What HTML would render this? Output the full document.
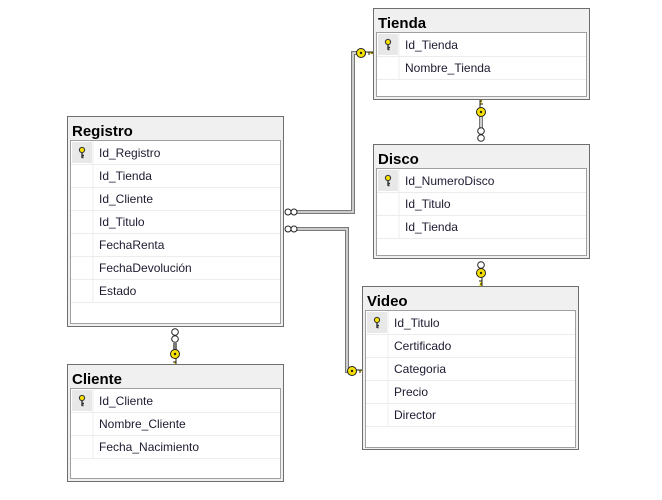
<!DOCTYPE html>
<html><head><meta charset="utf-8"><style>
html,body{margin:0;padding:0;background:#fff;}
svg{display:block}
text{font-family:"Liberation Sans",sans-serif;}
.t{font-size:15px;font-weight:bold;fill:#000}
.f{font-size:12px;fill:#1e1a30}
</style></head><body>
<svg width="662" height="500" viewBox="0 0 662 500" xmlns="http://www.w3.org/2000/svg">
<defs>
<g id="key"><circle cx="0" cy="-3" r="2.6" fill="#f5e000" stroke="#333" stroke-width="1"/><path d="M0 -0.5 V5 M0 2.5 h2 M0 4.5 h1.5" stroke="#333" stroke-width="1.4" fill="none"/></g>
<g id="keyH"><circle cx="0" cy="0" r="4.5" fill="#f5e000" stroke="#222" stroke-width="1"/><circle cx="0" cy="0" r="1.2" fill="#222"/><path d="M4.5 -1 h9 v3 M8 -1 v3 M11 -1 v2" stroke="#222" stroke-width="1" fill="#f5e000"/></g>
</defs>
<g fill="none" stroke-linejoin="miter">
<path d="M296 212 H353 V53 H366" stroke="#7a7a7a" stroke-width="4"/>
<path d="M296 212 H353 V53 H366" stroke="#e6e6e6" stroke-width="1.5"/>
<path d="M296 229 H347 V371 H350" stroke="#7a7a7a" stroke-width="4"/>
<path d="M296 229 H347 V371 H350" stroke="#e6e6e6" stroke-width="1.5"/>
<path d="M481 114 V128" stroke="#7a7a7a" stroke-width="4"/>
<path d="M481 114 V128" stroke="#e6e6e6" stroke-width="1.5"/>
<path d="M175 343 V352" stroke="#7a7a7a" stroke-width="4"/>
</g>
<g fill="#fff" stroke="#222" stroke-width="1">
<circle cx="288" cy="212" r="3"/><circle cx="294" cy="212" r="3"/>
<circle cx="288" cy="229" r="3"/><circle cx="294" cy="229" r="3"/>
<circle cx="481" cy="131" r="3.3"/><circle cx="481" cy="138" r="3.3"/>
<circle cx="481" cy="265" r="3.3"/>
<circle cx="175" cy="332" r="3.3"/><circle cx="175" cy="339" r="3.3"/>
</g>
<use href="#keyH" transform="translate(361,53)"/>
<use href="#keyH" transform="translate(352,371)"/>
<use href="#keyH" transform="translate(481,112) rotate(-90)"/>
<use href="#keyH" transform="translate(481,273) rotate(90)"/>
<use href="#keyH" transform="translate(175,354) rotate(90)"/>

<g transform="translate(373,8)">
<rect x="0.5" y="0.5" width="216" height="91" fill="#f0f0f0" stroke="#6e6e6e"/>
<text class="t" x="5" y="20">Tienda</text>
<rect x="3.5" y="24.5" width="210" height="64" fill="#fff" stroke="#a0a0a0"/>
<rect x="5" y="26" width="20" height="21" fill="#e8e8e8"/>
<path d="M4 48.5 H213 M4 71.5 H213 M26 25 V71" stroke="#ececec"/>
<use href="#key" transform="translate(15,37)"/>
<text class="f" x="32" y="41">Id_Tienda</text>
<text class="f" x="32" y="64">Nombre_Tienda</text>
</g>
<g transform="translate(67,116)">
<rect x="0.5" y="0.5" width="216" height="210" fill="#f0f0f0" stroke="#6e6e6e"/>
<text class="t" x="5" y="20">Registro</text>
<rect x="3.5" y="24.5" width="210" height="183" fill="#fff" stroke="#a0a0a0"/>
<rect x="5" y="26" width="20" height="21" fill="#e8e8e8"/>
<path d="M4 48.5 H213 M4 71.5 H213 M4 94.5 H213 M4 117.5 H213 M4 140.5 H213 M4 163.5 H213 M4 186.5 H213 M26 25 V186" stroke="#ececec"/>
<use href="#key" transform="translate(15,37)"/>
<text class="f" x="32" y="41">Id_Registro</text>
<text class="f" x="32" y="64">Id_Tienda</text>
<text class="f" x="32" y="87">Id_Cliente</text>
<text class="f" x="32" y="110">Id_Titulo</text>
<text class="f" x="32" y="133">FechaRenta</text>
<text class="f" x="32" y="156">FechaDevolución</text>
<text class="f" x="32" y="179">Estado</text>
</g>
<g transform="translate(373,144)">
<rect x="0.5" y="0.5" width="216" height="114" fill="#f0f0f0" stroke="#6e6e6e"/>
<text class="t" x="5" y="20">Disco</text>
<rect x="3.5" y="24.5" width="210" height="87" fill="#fff" stroke="#a0a0a0"/>
<rect x="5" y="26" width="20" height="21" fill="#e8e8e8"/>
<path d="M4 48.5 H213 M4 71.5 H213 M4 94.5 H213 M26 25 V94" stroke="#ececec"/>
<use href="#key" transform="translate(15,37)"/>
<text class="f" x="32" y="41">Id_NumeroDisco</text>
<text class="f" x="32" y="64">Id_Titulo</text>
<text class="f" x="32" y="87">Id_Tienda</text>
</g>
<g transform="translate(362,286)">
<rect x="0.5" y="0.5" width="216" height="163" fill="#f0f0f0" stroke="#6e6e6e"/>
<text class="t" x="5" y="20">Video</text>
<rect x="3.5" y="24.5" width="210" height="137" fill="#fff" stroke="#a0a0a0"/>
<rect x="5" y="26" width="20" height="21" fill="#e8e8e8"/>
<path d="M4 48.5 H213 M4 71.5 H213 M4 94.5 H213 M4 117.5 H213 M4 140.5 H213 M26 25 V140" stroke="#ececec"/>
<use href="#key" transform="translate(15,37)"/>
<text class="f" x="32" y="41">Id_Titulo</text>
<text class="f" x="32" y="64">Certificado</text>
<text class="f" x="32" y="87">Categoria</text>
<text class="f" x="32" y="110">Precio</text>
<text class="f" x="32" y="133">Director</text>
</g>
<g transform="translate(67,364)">
<rect x="0.5" y="0.5" width="216" height="117" fill="#f0f0f0" stroke="#6e6e6e"/>
<text class="t" x="5" y="20">Cliente</text>
<rect x="3.5" y="24.5" width="210" height="90" fill="#fff" stroke="#a0a0a0"/>
<rect x="5" y="26" width="20" height="21" fill="#e8e8e8"/>
<path d="M4 48.5 H213 M4 71.5 H213 M4 94.5 H213 M26 25 V94" stroke="#ececec"/>
<use href="#key" transform="translate(15,37)"/>
<text class="f" x="32" y="41">Id_Cliente</text>
<text class="f" x="32" y="64">Nombre_Cliente</text>
<text class="f" x="32" y="87">Fecha_Nacimiento</text>
</g>
</svg>
</body></html>
